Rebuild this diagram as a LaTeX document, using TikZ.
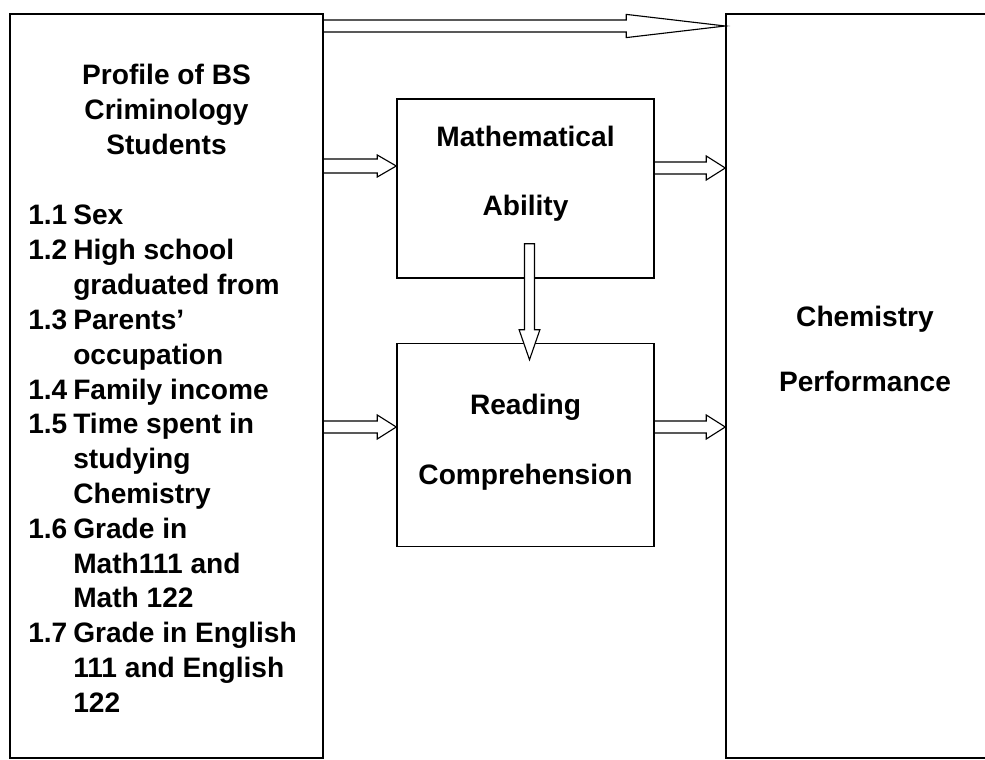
\documentclass[tikz,border=0pt]{standalone}
\usepackage{fontspec}
\setmainfont{Liberation Sans}
\usetikzlibrary{calc,positioning}

\tikzset{
  box/.style={draw, line width=1pt, inner sep=0pt},
  lbl/.style={inner sep=0pt, font=\fontsize{20}{24.75}\selectfont\bfseries},
  % hollow block arrow: shaft half width, head half width, head length, end of path
  fatarrow/.style n args={4}{line width=0.8pt, line join=miter, to path={
    let \p1=($(\tikztotarget)!#3!(\tikztostart)$) in
    ($(\tikztostart)!#1!90:(\tikztotarget)$) -- ($(\p1)!#1!90:(\tikztotarget)$)
    -- ($(\p1)!#2!90:(\tikztotarget)$) -- (\tikztotarget)
    -- ($(\p1)!#2!-90:(\tikztotarget)$) -- ($(\p1)!#1!-90:(\tikztotarget)$)
    -- ($(\tikztostart)!#1!-90:(\tikztotarget)$) #4 \tikztonodes}}
}

\begin{document}
\begin{tikzpicture}[x=0.025cm, y=-0.025cm]
\useasboundingbox (0,0) rectangle (985,760);
\coordinate (ytop) at (0,26);
\coordinate (ymath) at (0,166);
\coordinate (ymath2) at (0,168);
\coordinate (yread) at (0,427);

\node[box, minimum width=7.825cm, minimum height=18.6cm] (profile) at (166.5,386) {};
\node[box, minimum width=6.95cm, minimum height=18.6cm] (chem) at (865,386) {};
\node[box, minimum width=6.425cm, minimum height=4.475cm] (math) at (525.5,188.5) {};
\node[box, minimum width=6.425cm, minimum height=5.075cm, below=1.6cm of math] (read) {};

\node[lbl, below=1.78cm of profile.north, anchor=base] (title) {\begin{tabular}[t]{@{}c@{}}Profile of BS\\Criminology\\Students\end{tabular}};
\node[lbl, anchor=base west] (items) at (28,225) {\begin{tabular}[t]{@{}p{1.125cm}@{}l@{}}
1.1 & Sex\\
1.2 & High school\\
    & graduated from\\
1.3 & Parents’\\
    & occupation\\
1.4 & Family income\\
1.5 & Time spent in\\
    & studying\\
    & Chemistry\\
1.6 & Grade in\\
    & Math111 and\\
    & Math 122\\
1.7 & Grade in English\\
    & 111 and English\\
    & 122
\end{tabular}};
\node[lbl, below=1.2cm of math.north, anchor=base] (mathtxt) {\begin{tabular}[t]{@{}c@{}}Mathematical\\[24.75pt]Ability\end{tabular}};
\node[lbl, below=1.8cm of read.north, anchor=base] (readtxt) {\begin{tabular}[t]{@{}c@{}}Reading\\[24.75pt]Comprehension\end{tabular}};
\node[lbl, below=7.82cm of chem.north, anchor=base] (chemtxt) {\begin{tabular}[t]{@{}c@{}}Chemistry\\[22pt]Performance\end{tabular}};

\coordinate (dtop) at ($(math.south)+(4,-35)$);
\coordinate (dtip) at ($(read.north)+(4,17)$);

\draw[fatarrow={0.15cm}{0.29cm}{2.475cm}{}] (profile.east |- ytop) to (chem.west |- ytop);
\draw[fatarrow={0.175cm}{0.275cm}{0.475cm}{}] (profile.east |- ymath) to (math.west |- ymath);
\draw[fatarrow={0.15cm}{0.3cm}{0.475cm}{}] (math.east |- ymath2) to (chem.west |- ymath2);
\draw[fatarrow={0.15cm}{0.3cm}{0.475cm}{}] (profile.east |- yread) to (read.west |- yread);
\draw[fatarrow={0.15cm}{0.3cm}{0.475cm}{}] (read.east |- yread) to (chem.west |- yread);
\draw[fatarrow={0.125cm}{0.26cm}{0.75cm}{-- cycle}, fill=white] (dtop) to (dtip);
\end{tikzpicture}
\end{document}
